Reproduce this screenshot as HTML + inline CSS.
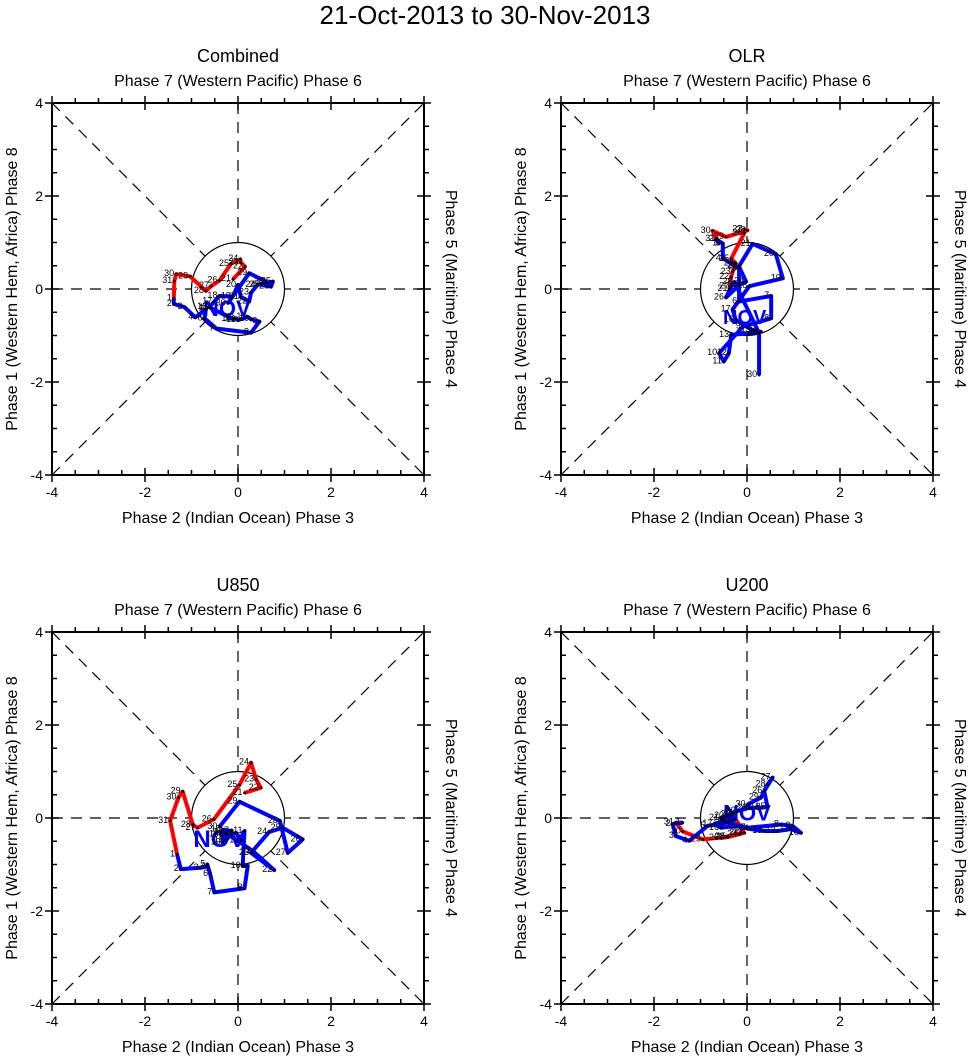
<!DOCTYPE html>
<html><head><meta charset="utf-8"><style>
body{margin:0;background:#fff;}
svg{display:block;font-family:"Liberation Sans",sans-serif;}
</style></head><body>
<svg id="c" width="971" height="1056" viewBox="0 0 971 1056">
<text x="485" y="24" font-size="26" text-anchor="middle">21-Oct-2013 to 30-Nov-2013</text>
</svg>
<script>
const panelTitles = ["Combined","OLR","U850","U200"];
const tickLabels = ["-4","-2","0","2","4"];
const tickValues = [-4,-2,0,2,4];
// October (red) days 21-31, November (blue) days 1-30
const octDays = [21,22,23,24,25,26,27,28,29,30,31];
const novDays = [1,2,3,4,5,6,7,8,9,10,11,12,13,14,15,16,17,18,19,20,21,22,23,24,25,26,27,28,29,30];
const combOctX = [-0.11,0.15,0.06,0.05,-0.15,-0.40,-0.58,-0.69,-1.03,-1.33,-1.37];
const combOctY = [0.21,0.48,0.57,0.64,0.54,0.18,0.06,-0.04,0.27,0.32,0.17];
const combNovX = [-1.38,-1.38,-1.15,-0.92,-0.69,-0.72,-0.47,0.28,0.46,0.28,0.21,0.0,-0.04,-0.10,-0.58,-0.62,-0.51,-0.40,-0.11,0.0,0.06,0.24,0.28,0.42,0.75,0.71,0.50,0.60,0.24,-0.22];
const combNovY = [-0.20,-0.32,-0.39,-0.61,-0.44,-0.63,-0.85,-0.94,-0.70,-0.65,-0.60,-0.67,-0.63,-0.65,-0.41,-0.39,-0.27,-0.15,-0.16,0.09,-0.17,-0.27,-0.08,0.09,0.16,0.05,0.09,0.16,0.34,-0.31];
const olrOctX = [-0.38,-0.34,-0.31,-0.24,-0.34,-0.06,-0.06,0.01,-0.45,-0.74,-0.64];
const olrOctY = [0.0,0.26,0.37,0.55,0.65,1.20,1.28,1.26,1.12,1.25,1.07];
const olrNovX = [-0.60,-0.67,-0.52,-0.52,-0.17,-0.17,0.52,0.52,-0.09,-0.60,-0.50,-0.39,-0.34,0.30,0.12,-0.24,-0.31,0.05,0.77,0.62,0.12,-0.16,-0.17,-0.02,-0.16,-0.45,-0.34,-0.27,0.26,0.26];
const olrNovY = [0.98,1.07,0.98,0.66,0.44,-0.27,-0.15,-0.63,-0.81,-1.38,-1.56,-1.38,-0.99,-0.92,-0.88,-0.67,-0.44,0.06,0.23,0.75,0.97,0.51,0.48,0.16,0.09,-0.18,0.05,0.15,-0.95,-1.85];
const u850OctX = [0.14,0.49,0.39,0.28,0.03,-0.52,-0.87,-0.97,-1.19,-1.28,-1.46];
const u850OctY = [0.54,0.65,0.83,1.19,0.71,-0.03,-0.21,-0.15,0.57,0.44,-0.06];
const u850NovX = [-1.31,-1.23,-0.80,-0.65,-0.66,-0.60,-0.51,0.14,0.21,0.10,0.14,0.07,-0.04,-0.15,-0.26,-0.37,-0.15,-0.33,-0.33,-0.26,0.32,0.78,0.28,0.67,0.96,1.39,1.07,0.90,0.03,-0.40];
const u850NovY = [-0.78,-1.10,-1.07,-1.04,-1.00,-1.20,-1.60,-1.51,-1.03,-1.03,-0.28,-0.48,-0.32,-0.35,-0.48,-0.35,-0.28,-0.25,-0.53,-0.32,-0.71,-1.12,-0.75,-0.30,-0.21,-0.46,-0.75,-0.06,0.35,-0.19];
const u200OctX = [-0.24,-0.31,-0.06,-0.17,-0.41,-0.56,-0.13,-0.44,-0.95,-1.38,-1.53];
const u200OctY = [0.11,0.08,-0.32,-0.35,-0.41,-0.43,-0.32,-0.41,-0.46,-0.29,-0.10];
const u200NovX = [-1.38,-1.60,-1.53,-1.24,-0.85,-0.41,0.01,0.73,0.98,1.16,0.94,0.66,0.37,0.08,-0.20,-0.56,-0.70,-0.49,-0.27,-0.45,-0.56,-0.20,0.05,0.30,0.44,0.37,0.55,0.44,0.30,0.01];
const u200NovY = [-0.10,-0.13,-0.39,-0.49,-0.17,-0.10,-0.21,-0.14,-0.17,-0.32,-0.24,-0.28,-0.28,-0.24,-0.17,-0.21,-0.13,-0.06,-0.03,0.04,0.00,0.15,0.22,0.22,0.24,0.58,0.87,0.72,0.44,0.29];
const novLabelX = [-0.24,-0.05,-0.4,0.0];
const novLabelY = [-0.58,-0.75,-0.62,-0.05];
const novLabelSize = [22,20,24,22];

const series = [
 [combOctX,combOctY,combNovX,combNovY],
 [olrOctX,olrOctY,olrNovX,olrNovY],
 [u850OctX,u850OctY,u850NovX,u850NovY],
 [u200OctX,u200OctY,u200NovX,u200NovY]];
const NS="http://www.w3.org/2000/svg";
const svg=document.getElementById('c');
function mk(tag,attrs,parent){const e=document.createElementNS(NS,tag);for(const k in attrs)e.setAttribute(k,attrs[k]);(parent||svg).appendChild(e);return e;}
const origins=[[52,103],[561,103],[52,632],[561,632]];
const W=372;
for(let p=0;p<4;p++){
 const [L,T]=origins[p];
 const g=mk('g',{});
 
 
 const sx=v=>L+(v+4)/8*W, sy=v=>T+(4-v)/8*W;
 const cx=sx(0), cy=sy(0);
 let t=mk('text',{x:cx,y:T-41,'font-size':18,'text-anchor':'middle'},g);t.textContent=panelTitles[p];
 
 t=mk('text',{x:cx,y:T-17,'font-size':16,'text-anchor':'middle'},g);t.textContent='Phase 7 (Western Pacific) Phase 6';
 
 t=mk('text',{x:cx,y:T+W+48,'font-size':16,'text-anchor':'middle'},g);t.textContent='Phase 2 (Indian Ocean) Phase 3';
 
 t=mk('text',{x:0,y:0,'font-size':16,'text-anchor':'middle',transform:`translate(${L-35},${cy}) rotate(-90)`},g);t.textContent='Phase 1 (Western Hem, Africa) Phase 8';
 
 t=mk('text',{x:0,y:0,'font-size':16,'text-anchor':'middle',transform:`translate(${L+W+22},${cy}) rotate(90)`},g);t.textContent='Phase 5 (Maritime) Phase 4';
 
 const dash={stroke:'#000','stroke-width':1.2,'stroke-dasharray':'11,8',fill:'none'};
 let d=mk('line',Object.assign({x1:sx(-4),y1:sy(-4),x2:sx(4),y2:sy(4)},dash),g);
 d=mk('line',Object.assign({x1:sx(-4),y1:sy(4),x2:sx(4),y2:sy(-4)},dash),g);
 d=mk('line',Object.assign({x1:sx(-4),y1:cy,x2:sx(4),y2:cy},dash),g);
 d=mk('line',Object.assign({x1:cx,y1:sy(-4),x2:cx,y2:sy(4)},dash),g);
 const circ=mk('circle',{cx:cx,cy:cy,r:W/8,fill:'#fff',stroke:'#000','stroke-width':1.2},g);
 
 const fr=mk('rect',{x:L,y:T,width:W,height:W,fill:'none',stroke:'#000','stroke-width':2},g);
 
 let tk='';
 for(let v=-4;v<=4.001;v+=0.5){
  const major=Math.abs(v-Math.round(v/2)*2)<1e-6;
  const X=sx(v),Y=sy(v);
  if(major){tk+=`M${X} ${T+W-7}V${T+W+7}M${X} ${T-7}V${T+7}M${L-7} ${Y}H${L+7}M${L+W-7} ${Y}H${L+W+7}`;}
  else{tk+=`M${X} ${T+W}V${T+W-5}M${X} ${T}V${T-5}M${L} ${Y}H${L+5}M${L+W} ${Y}H${L+W+5}`;}
 }
 const tp=mk('path',{d:tk,stroke:'#000','stroke-width':1.5,fill:'none'},g);
 
 tickValues.forEach((v,i)=>{
  let a=mk('text',{x:sx(v),y:T+W+22,'font-size':14,'text-anchor':'middle'},g);a.textContent=tickLabels[i];
  
  a=mk('text',{x:L-9,y:sy(v)+5,'font-size':14,'text-anchor':'end'},g);a.textContent=tickLabels[i];
  
 });
 const [ox,oy,nx,ny]=series[p];
 const lp=(xs,ys)=>xs.map((x,i)=>sx(x)+','+sy(ys[i])).join(' ');
 const oxs=ox.concat([nx[0]]), oys=oy.concat([ny[0]]);
 const red=mk('polyline',{points:lp(oxs,oys),fill:'none',stroke:'#ff0000','stroke-width':4,'stroke-linejoin':'round'},g);
 
 const blue=mk('polyline',{points:lp(nx,ny),fill:'none',stroke:'#0000ff','stroke-width':4,'stroke-linejoin':'round'},g);
 
 const nl=mk('text',{x:sx(novLabelX[p]),y:sy(novLabelY[p]),'font-size':novLabelSize[p],'font-weight':'bold',fill:'#0000ff','text-anchor':'middle'},g);
 nl.textContent='NOV';
 const addDays=(xs,ys,days,nm)=>xs.forEach((x,i)=>{
  const dot=mk('circle',{cx:sx(x),cy:sy(ys[i]),r:1.4,fill:'#000'},g);
  
  const lb=mk('text',{x:sx(x)-2,y:sy(ys[i])+2,'font-size':9,'text-anchor':'end'},g);
  lb.textContent=days[i];
 });
 addDays(ox,oy,octDays,'october');addDays(nx,ny,novDays,'november');
}
</script>
</body></html>
